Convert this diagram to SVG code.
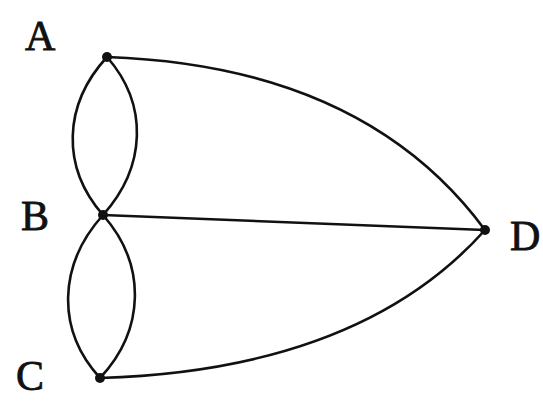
<svg xmlns="http://www.w3.org/2000/svg" width="543" height="402" viewBox="0 0 543 402">
<style>
.e{fill:none;stroke:#111;stroke-width:2.6}
.n{fill:#111}
.t{font-family:"Liberation Serif","DejaVu Serif",serif;font-size:42px;fill:#111;stroke:#111;stroke-width:0.8}
</style>
<rect width="543" height="402" fill="#fff"/>
<g id="edges">
<path class="e" d="M107,57 C63,105 61,167 103,215"/>
<path class="e" d="M107,57 C149,105 146,167 103,215"/>
<path class="e" d="M103,215 C58,265 56,330 100,378"/>
<path class="e" d="M103,215 C147,265 145,330 100,378"/>
<path class="e" d="M107,57 Q364,66 485,230"/>
<path class="e" d="M100,378 Q360,370 485,230"/>
<path class="e" d="M103,215 L485,230"/>
</g>
<g id="A"><circle class="n" cx="107" cy="57" r="5"/><text class="t" x="25" y="50">A</text></g>
<g id="B"><circle class="n" cx="103" cy="215" r="5"/><text class="t" x="21" y="230">B</text></g>
<g id="C"><circle class="n" cx="100" cy="378" r="5"/><text class="t" x="16" y="390">C</text></g>
<g id="D"><circle class="n" cx="485" cy="230" r="5"/><text class="t" x="510" y="250">D</text></g>
</svg>
